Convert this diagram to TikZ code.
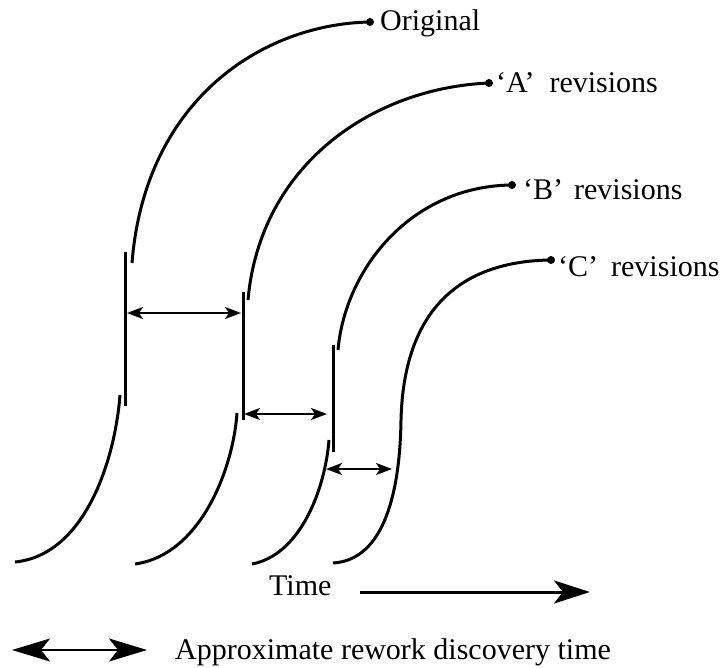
\documentclass[tikz,border=0pt]{standalone}
\usepackage{fontspec}
\setmainfont{Liberation Serif}
\usetikzlibrary{arrows.meta}
\begin{document}
\begin{tikzpicture}[x=1pt,y=-1pt,
  curve/.style={line width=3pt},
  marker/.style={line width=3pt},
  span/.style={line width=2pt,
    {Stealth[length=16pt,width=12pt,inset=4pt]}-{Stealth[length=16pt,width=12pt,inset=4pt]}},
  enddot/.style={circle,fill,inner sep=0pt,minimum size=8pt},
  lbl/.style={anchor=base west,inner sep=0pt,font=\fontsize{30}{36}\selectfont}]
\useasboundingbox (0,0) rectangle (728,668);

% end points of the curves and their labels
\node[enddot] (d0) at (370,22) {};
\node[enddot] (d1) at (489,83) {};
\node[enddot] (d2) at (512,185) {};
\node[enddot] (d3) at (551,260) {};
\node[lbl] (t0) at (380,31) {Original};
\node[lbl] (t1) at (496,93) {‘A’\hspace{15pt}revisions};
\node[lbl] (t2) at (523,200) {‘B’\hspace{11pt}revisions};
\node[lbl] (t3) at (558,277) {‘C’\hspace{13pt}revisions};

% original work
\draw[curve] (15,562) .. controls (85,555) and (115,460) .. (120,395);
\draw[curve] (132,263) .. controls (145,100) and (262,24) .. (d0.center);
% 'A' revisions
\draw[curve] (135,564) .. controls (200,555) and (233,470) .. (237,413);
\draw[curve] (248,300) .. controls (260,165) and (372,88) .. (d1.center);
% 'B' revisions
\draw[curve] (252,564) .. controls (300,555) and (325,490) .. (329,440);
\draw[curve] (338,350) .. controls (345,270) and (410,186) .. (d2.center);
% 'C' revisions
\draw[curve] (333,563) .. controls (385,560) and (400,490) .. (401,420)
  .. controls (404,300) and (470,261) .. (d3.center);

% rework markers
\coordinate (m1t) at (125,252); \coordinate (m1b) at (125,406);
\coordinate (m2t) at (243,292); \coordinate (m2b) at (243,420);
\coordinate (m3t) at (333,345); \coordinate (m3b) at (333,452);
\draw[marker] (m1t) -- (m1b);
\draw[marker] (m2t) -- (m2b);
\draw[marker] (m3t) -- (m3b);

% discovery time spans
\coordinate (s1l) at (127,313); \coordinate (s1r) at (241,313);
\coordinate (s2l) at (244,414); \coordinate (s2r) at (327,414);
\coordinate (s3l) at (326,469); \coordinate (s3r) at (392,469);
\draw[span] (s1l) -- (s1r);
\draw[span] (s2l) -- (s2r);
\draw[span] (s3l) -- (s3r);

% time axis
\node[lbl] (time) at (269,595) {Time};
\coordinate (ta) at (360,592); \coordinate (tb) at (590,592);
\draw[line width=3pt,-{Stealth[length=36pt,width=23pt,inset=9pt]}] (ta) -- (tb);

% legend
\coordinate (la) at (12,650); \coordinate (lb) at (147,650);
\draw[line width=2.2pt,{Stealth[length=38pt,width=23pt,inset=9pt]}-{Stealth[length=38pt,width=23pt,inset=9pt]}] (la) -- (lb);
\node[lbl] (legend) at (175,659) {Approximate rework discovery time};
\end{tikzpicture}
\end{document}
